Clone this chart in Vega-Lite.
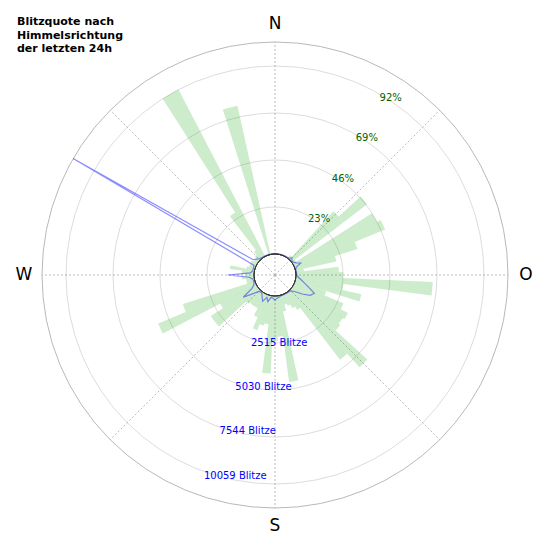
{
  "$schema": "https://vega.github.io/schema/vega-lite/v6.json",
  "width": 550,
  "height": 550,
  "autosize": {"type": "none"},
  "padding": 0,
  "background": "white",
  "config": {"view": {"stroke": null}, "font": "DejaVu Sans"},
  "title": {
    "text": ["Blitzquote nach", "Himmelsrichtung", "der letzten 24h"],
    "anchor": "start",
    "frame": "group",
    "align": "left",
    "font": "DejaVu Sans",
    "fontSize": 11,
    "fontWeight": "bold",
    "lineHeight": 13.3,
    "color": "black",
    "baseline": "top",
    "offset": -54,
    "dx": 17
  },
  "datasets": {
    "quote": [
      {"von": 37.5, "bis": 42.5, "quote": 2},
      {"von": 42.5, "bis": 47.5, "quote": 32},
      {"von": 47.5, "bis": 52.5, "quote": 46.5},
      {"von": 52.5, "bis": 57.5, "quote": 2},
      {"von": 57.5, "bis": 62.5, "quote": 46},
      {"von": 62.5, "bis": 67.5, "quote": 48},
      {"von": 67.5, "bis": 72.5, "quote": 32},
      {"von": 72.5, "bis": 77.5, "quote": 20.5},
      {"von": 77.5, "bis": 82.5, "quote": 4},
      {"von": 82.5, "bis": 87.5, "quote": 21},
      {"von": 87.5, "bis": 92.5, "quote": 23},
      {"von": 92.5, "bis": 97.5, "quote": 67},
      {"von": 97.5, "bis": 102.5, "quote": 23.5},
      {"von": 102.5, "bis": 107.5, "quote": 33},
      {"von": 107.5, "bis": 112.5, "quote": 16},
      {"von": 112.5, "bis": 117.5, "quote": 26},
      {"von": 117.5, "bis": 122.5, "quote": 30},
      {"von": 122.5, "bis": 127.5, "quote": 29},
      {"von": 127.5, "bis": 132.5, "quote": 30},
      {"von": 132.5, "bis": 137.5, "quote": 51},
      {"von": 137.5, "bis": 142.5, "quote": 42},
      {"von": 142.5, "bis": 147.5, "quote": 10},
      {"von": 147.5, "bis": 152.5, "quote": 8},
      {"von": 152.5, "bis": 157.5, "quote": 6},
      {"von": 157.5, "bis": 162.5, "quote": 5},
      {"von": 162.5, "bis": 167.5, "quote": 8},
      {"von": 167.5, "bis": 172.5, "quote": 42.5},
      {"von": 172.5, "bis": 177.5, "quote": 20},
      {"von": 177.5, "bis": 182.5, "quote": 22},
      {"von": 182.5, "bis": 187.5, "quote": 38},
      {"von": 187.5, "bis": 192.5, "quote": 14},
      {"von": 192.5, "bis": 197.5, "quote": 15},
      {"von": 197.5, "bis": 202.5, "quote": 18},
      {"von": 202.5, "bis": 207.5, "quote": 12},
      {"von": 207.5, "bis": 212.5, "quote": 8},
      {"von": 212.5, "bis": 217.5, "quote": 8},
      {"von": 217.5, "bis": 222.5, "quote": 8},
      {"von": 222.5, "bis": 227.5, "quote": 9},
      {"von": 227.5, "bis": 232.5, "quote": 27},
      {"von": 232.5, "bis": 237.5, "quote": 27},
      {"von": 237.5, "bis": 242.5, "quote": 20},
      {"von": 242.5, "bis": 247.5, "quote": 51.6},
      {"von": 247.5, "bis": 252.5, "quote": 37},
      {"von": 252.5, "bis": 257.5, "quote": 4},
      {"von": 257.5, "bis": 262.5, "quote": 4},
      {"von": 262.5, "bis": 267.5, "quote": 6},
      {"von": 267.5, "bis": 272.5, "quote": 4},
      {"von": 272.5, "bis": 277.5, "quote": 6},
      {"von": 277.5, "bis": 282.5, "quote": 12},
      {"von": 282.5, "bis": 287.5, "quote": 4},
      {"von": 287.5, "bis": 292.5, "quote": 3},
      {"von": 292.5, "bis": 297.5, "quote": 3},
      {"von": 297.5, "bis": 302.5, "quote": 3},
      {"von": 302.5, "bis": 307.5, "quote": 2},
      {"von": 307.5, "bis": 312.5, "quote": 2},
      {"von": 312.5, "bis": 317.5, "quote": 3},
      {"von": 317.5, "bis": 322.5, "quote": 5},
      {"von": 322.5, "bis": 327.5, "quote": 26},
      {"von": 327.5, "bis": 332.5, "quote": 92},
      {"von": 342.5, "bis": 347.5, "quote": 74.6}
    ],
    "blitze": [
      {"dir": 0, "blitze": 30}, {"dir": 5, "blitze": 25}, {"dir": 10, "blitze": 20},
      {"dir": 15, "blitze": 25}, {"dir": 20, "blitze": 30}, {"dir": 25, "blitze": 30},
      {"dir": 30, "blitze": 35}, {"dir": 35, "blitze": 40}, {"dir": 40, "blitze": 60},
      {"dir": 45, "blitze": 150}, {"dir": 50, "blitze": 50}, {"dir": 55, "blitze": 80},
      {"dir": 60, "blitze": 180}, {"dir": 65, "blitze": 400}, {"dir": 70, "blitze": 80},
      {"dir": 75, "blitze": 30}, {"dir": 80, "blitze": 25}, {"dir": 85, "blitze": 30},
      {"dir": 90, "blitze": 40}, {"dir": 95, "blitze": 120}, {"dir": 100, "blitze": 280},
      {"dir": 105, "blitze": 500}, {"dir": 110, "blitze": 800}, {"dir": 115, "blitze": 1200},
      {"dir": 120, "blitze": 1050}, {"dir": 125, "blitze": 650}, {"dir": 130, "blitze": 250},
      {"dir": 135, "blitze": 80}, {"dir": 140, "blitze": 40}, {"dir": 145, "blitze": 30},
      {"dir": 150, "blitze": 25}, {"dir": 155, "blitze": 25}, {"dir": 160, "blitze": 30},
      {"dir": 165, "blitze": 40}, {"dir": 170, "blitze": 80}, {"dir": 175, "blitze": 120},
      {"dir": 180, "blitze": 220}, {"dir": 185, "blitze": 120}, {"dir": 190, "blitze": 90},
      {"dir": 195, "blitze": 350}, {"dir": 200, "blitze": 150}, {"dir": 205, "blitze": 430},
      {"dir": 210, "blitze": 250}, {"dir": 215, "blitze": 100}, {"dir": 220, "blitze": 60},
      {"dir": 225, "blitze": 120}, {"dir": 230, "blitze": 450}, {"dir": 235, "blitze": 950},
      {"dir": 240, "blitze": 300}, {"dir": 245, "blitze": 120}, {"dir": 250, "blitze": 80},
      {"dir": 255, "blitze": 60}, {"dir": 260, "blitze": 100}, {"dir": 265, "blitze": 250},
      {"dir": 270, "blitze": 1400}, {"dir": 275, "blitze": 200}, {"dir": 280, "blitze": 100},
      {"dir": 285, "blitze": 80}, {"dir": 290, "blitze": 100}, {"dir": 295, "blitze": 120},
      {"dir": 300, "blitze": 11350}, {"dir": 305, "blitze": 300}, {"dir": 310, "blitze": 200},
      {"dir": 315, "blitze": 100}, {"dir": 320, "blitze": 60}, {"dir": 325, "blitze": 40},
      {"dir": 330, "blitze": 30}, {"dir": 335, "blitze": 30}, {"dir": 340, "blitze": 25},
      {"dir": 345, "blitze": 25}, {"dir": 350, "blitze": 25}, {"dir": 355, "blitze": 25},
      {"dir": 360, "blitze": 30}
    ],
    "ringe": [
      {"ring": 23, "prozent": "23%", "anzahl": "2515 Blitze"},
      {"ring": 46, "prozent": "46%", "anzahl": "5030 Blitze"},
      {"ring": 69, "prozent": "69%", "anzahl": "7544 Blitze"},
      {"ring": 92, "prozent": "92%", "anzahl": "10059 Blitze"}
    ],
    "rand": [{"ring": 103.75}],
    "loch": [{"ring": 0}],
    "strahlen": [
      {"dir": 0}, {"dir": 45}, {"dir": 90}, {"dir": 135},
      {"dir": 180}, {"dir": 225}, {"dir": 270}, {"dir": 315}
    ],
    "himmel": [
      {"dir": 0, "name": "N"},
      {"dir": 90, "name": "O"},
      {"dir": 180, "name": "S"},
      {"dir": 270, "name": "W"}
    ]
  },
  "layer": [
    {
      "data": {"name": "ringe"},
      "mark": {"type": "arc", "theta": 0, "theta2": 6.2832, "fillOpacity": 0, "stroke": "#d3d3d3", "strokeWidth": 0.8},
      "encoding": {
        "radius": {"field": "ring", "type": "quantitative", "stack": null, "scale": {"type": "linear", "zero": false, "domain": [0, 103.75], "range": [21, 233]}}
      }
    },
    {
      "data": {"name": "rand"},
      "mark": {"type": "arc", "theta": 0, "theta2": 6.2832, "fillOpacity": 0, "stroke": "#b0b0b0", "strokeWidth": 0.9},
      "encoding": {
        "radius": {"field": "ring", "type": "quantitative", "stack": null, "scale": {"type": "linear", "zero": false, "domain": [0, 103.75], "range": [21, 233]}}
      }
    },
    {
      "data": {"name": "strahlen"},
      "transform": [
        {"calculate": "0", "as": "x1"},
        {"calculate": "12468 * sin(datum.dir * PI / 180)", "as": "x2"},
        {"calculate": "12468 * cos(datum.dir * PI / 180)", "as": "y2"}
      ],
      "mark": {"type": "rule", "stroke": "#aaaaaa", "strokeWidth": 0.8, "strokeDash": [2, 2]},
      "encoding": {
        "x": {"field": "x1", "type": "quantitative", "scale": {"domain": [-14715, 14715], "nice": false, "zero": false}, "axis": null},
        "y": {"field": "x1", "type": "quantitative", "scale": {"domain": [-14715, 14715], "nice": false, "zero": false}, "axis": null},
        "x2": {"field": "x2"},
        "y2": {"field": "y2"}
      }
    },
    {
      "data": {"name": "quote"},
      "mark": {"type": "arc", "fill": "#00a000", "fillOpacity": 0.2, "strokeWidth": 0},
      "encoding": {
        "theta": {"field": "von", "type": "quantitative", "stack": null, "scale": {"domain": [0, 360], "range": [0, 6.283185307179586]}},
        "theta2": {"field": "bis"},
        "radius": {"field": "quote", "type": "quantitative", "stack": null, "scale": {"type": "linear", "zero": false, "domain": [0, 103.75], "range": [21, 233]}},
        "radius2": {"value": 21}
      }
    },
    {
      "data": {"name": "blitze"},
      "transform": [
        {"calculate": "(datum.blitze + 1124) * sin(datum.dir * PI / 180)", "as": "x"},
        {"calculate": "(datum.blitze + 1124) * cos(datum.dir * PI / 180)", "as": "y"}
      ],
      "mark": {"type": "line", "stroke": "#0000ff", "strokeOpacity": 0.45, "strokeWidth": 1.2},
      "encoding": {
        "x": {"field": "x", "type": "quantitative", "scale": {"domain": [-14715, 14715], "nice": false, "zero": false}, "axis": null},
        "y": {"field": "y", "type": "quantitative", "scale": {"domain": [-14715, 14715], "nice": false, "zero": false}, "axis": null},
        "order": {"field": "dir", "type": "quantitative"}
      }
    },
    {
      "data": {"name": "loch"},
      "mark": {"type": "arc", "theta": 0, "theta2": 6.2832, "fill": "white", "stroke": "#333333", "strokeWidth": 1},
      "encoding": {
        "radius": {"field": "ring", "type": "quantitative", "stack": null, "scale": {"type": "linear", "zero": false, "domain": [0, 103.75], "range": [21, 233]}}
      }
    },
    {
      "data": {"name": "himmel"},
      "mark": {"type": "text", "fontSize": 17, "color": "black", "align": "center", "baseline": "middle", "radius": 251},
      "encoding": {
        "theta": {"field": "dir", "type": "quantitative", "scale": {"domain": [0, 360], "range": [0, 6.283185307179586]}},
        "text": {"field": "name"}
      }
    },
    {
      "data": {"name": "ringe"},
      "mark": {"type": "text", "fontSize": 10, "color": "#006400", "align": "left", "baseline": "middle", "theta": 0.5323, "radiusOffset": -3},
      "encoding": {
        "radius": {"field": "ring", "type": "quantitative", "scale": {"type": "linear", "zero": false, "domain": [0, 103.75], "range": [21, 233]}},
        "text": {"field": "prozent"}
      }
    },
    {
      "data": {"name": "ringe"},
      "mark": {"type": "text", "fontSize": 10, "color": "#0000ff", "align": "left", "baseline": "middle", "theta": 3.4819, "radiusOffset": 4},
      "encoding": {
        "radius": {"field": "ring", "type": "quantitative", "scale": {"type": "linear", "zero": false, "domain": [0, 103.75], "range": [21, 233]}},
        "text": {"field": "anzahl"}
      }
    }
  ]
}
